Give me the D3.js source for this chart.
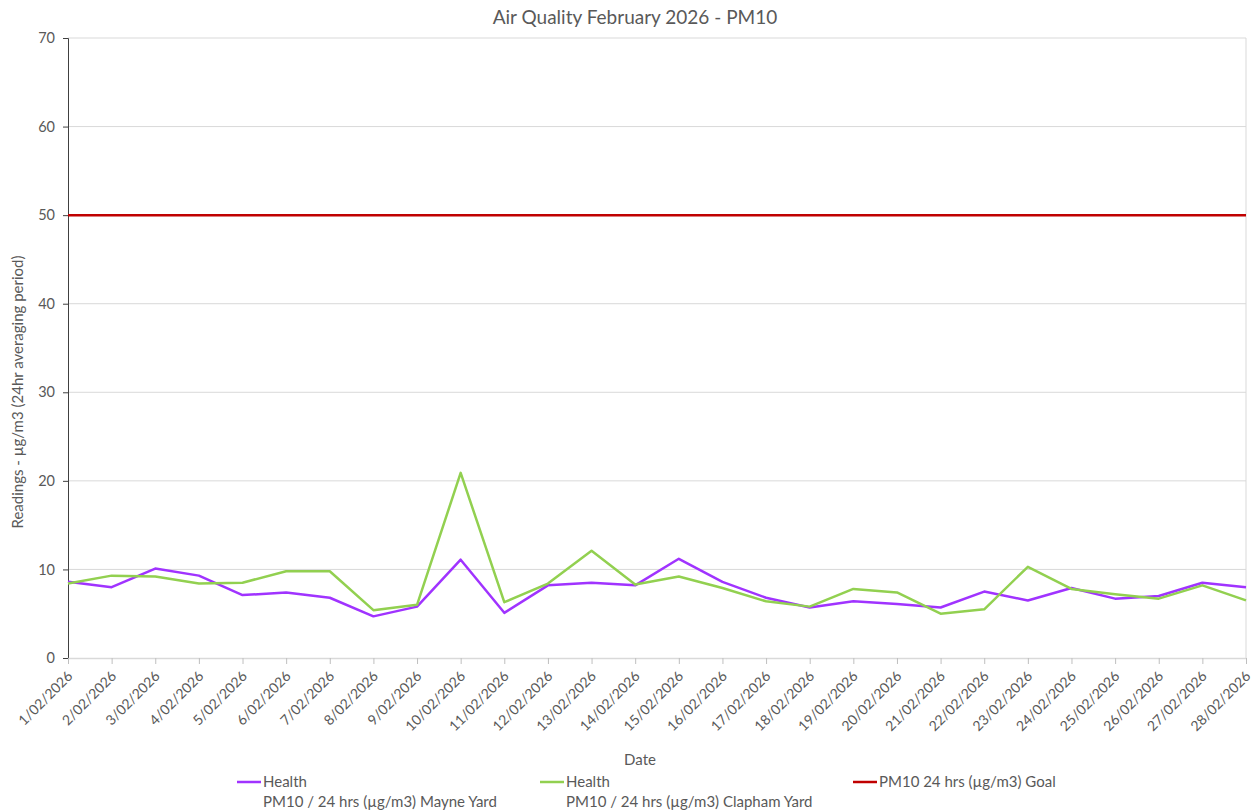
<!DOCTYPE html>
<html>
<head>
<meta charset="utf-8">
<script src="https://cdn.jsdelivr.net/npm/d3@7"></script>
<style>
  body { margin: 0; background: #fff; }
  svg { font-family: Lato, "Open Sans", sans-serif; }
</style>
</head>
<body>
<svg id="chart" width="1257" height="811"></svg>
<script>
// dates on the x axis
const dates = d3.range(1, 29).map(d => `${d}/02/2026`);

// readings, µg/m3
const mayneYard = [8.6, 8.0, 10.1, 9.3, 7.1, 7.4, 6.8, 4.7, 5.8, 11.1, 5.1, 8.2, 8.5, 8.2,
  11.2, 8.6, 6.8, 5.7, 6.4, 6.1, 5.7, 7.5, 6.5, 7.9, 6.7, 7.0, 8.5, 8.0];
const claphamYard = [8.4, 9.3, 9.2, 8.4, 8.5, 9.8, 9.8, 5.4, 6.0, 20.9, 6.3, 8.4, 12.1, 8.3,
  9.2, 7.9, 6.4, 5.8, 7.8, 7.4, 5.0, 5.5, 10.3, 7.8, 7.2, 6.7, 8.2, 6.5];
const goal = 50;

const yTicks = [0, 10, 20, 30, 40, 50, 60, 70];

const seriesNames = [
  ["Health", "PM10 / 24 hrs (µg/m3) Mayne Yard"],
  ["Health", "PM10 / 24 hrs (µg/m3) Clapham Yard"],
  ["PM10 24 hrs (µg/m3) Goal"]
];
const colors = ["#a033ff", "#92d050", "#c00000"];

const svg = d3.select("#chart");
const plotLeft = 68, plotRight = 1246, plotTop = 38, plotBottom = 658;

const x = d3.scalePoint().domain(dates).range([plotLeft, plotRight]);
const y = d3.scaleLinear().domain([0, 70]).range([plotBottom, plotTop]);

const textColor = "#595959";

// gridlines
svg.append("g")
    .selectAll("line")
    .data(yTicks.filter(t => t > 0))
    .join("line")
    .attr("x1", plotLeft).attr("x2", plotRight)
    .attr("y1", d => y(d)).attr("y2", d => y(d))
    .attr("stroke", "#d9d9d9")
    .attr("stroke-width", 1);

// right border
svg.append("line")
    .attr("x1", plotRight).attr("x2", plotRight)
    .attr("y1", plotTop).attr("y2", plotBottom)
    .attr("stroke", "#d9d9d9");

// y axis
const yAxis = svg.append("g")
    .attr("transform", `translate(${plotLeft},0)`)
    .call(d3.axisLeft(y).tickValues(yTicks).tickSize(5).tickPadding(8));
yAxis.select(".domain").attr("stroke", "#404040");
yAxis.selectAll(".tick line").attr("stroke", "#404040");
yAxis.selectAll("text")
    .attr("fill", textColor)
    .attr("font-size", 14.5)
    .attr("font-family", "Lato, sans-serif");

// x axis
const xAxis = svg.append("g")
    .attr("transform", `translate(0,${plotBottom})`)
    .call(d3.axisBottom(x).tickSize(6).tickSizeOuter(0));
xAxis.select(".domain").attr("stroke", "#d9d9d9").attr("stroke-width", 1.5);
xAxis.selectAll(".tick line").attr("stroke", "#bfbfbf");
xAxis.selectAll("text")
    .attr("fill", textColor)
    .attr("font-size", 14)
    .attr("font-family", "Lato, sans-serif")
    .attr("text-anchor", "end")
    .attr("dy", null)
    .attr("y", 0)
    .attr("transform", "translate(5,19) rotate(-45)");

// lines
const line = d3.line()
    .x((d, i) => x(dates[i]))
    .y(d => y(d));

[mayneYard, claphamYard].forEach((values, i) => {
  svg.append("path")
      .datum(values)
      .attr("fill", "none")
      .attr("stroke", colors[i])
      .attr("stroke-width", 2.5)
      .attr("stroke-linejoin", "round")
      .attr("d", line);
});

svg.append("line")
    .attr("x1", plotLeft).attr("x2", plotRight)
    .attr("y1", y(goal)).attr("y2", y(goal))
    .attr("stroke", colors[2])
    .attr("stroke-width", 2.5);

// title
svg.append("text")
    .attr("x", 635).attr("y", 24)
    .attr("text-anchor", "middle")
    .attr("fill", textColor)
    .attr("font-size", 19)
    .text("Air Quality February 2026 - PM10");

// axis titles
svg.append("text")
    .attr("x", 640).attr("y", 765)
    .attr("text-anchor", "middle")
    .attr("fill", textColor)
    .attr("font-size", 15)
    .text("Date");

svg.append("text")
    .attr("transform", "translate(23,392) rotate(-90)")
    .attr("text-anchor", "middle")
    .attr("fill", textColor)
    .attr("font-size", 15)
    .text("Readings - µg/m3 (24hr averaging period)");

// legend
const legendX = [237, 540, 853];
const legend = svg.append("g");
seriesNames.forEach((lines, i) => {
  const g = legend.append("g").attr("transform", `translate(${legendX[i]},782)`);
  g.append("line")
      .attr("x1", 0).attr("x2", 24)
      .attr("y1", 0).attr("y2", 0)
      .attr("stroke", colors[i])
      .attr("stroke-width", 2.5);
  lines.forEach((t, j) => {
    g.append("text")
        .attr("x", 26).attr("y", j * 20 + 5)
        .attr("fill", textColor)
        .attr("font-size", 15)
        .text(t);
  });
});
</script>
</body>
</html>
